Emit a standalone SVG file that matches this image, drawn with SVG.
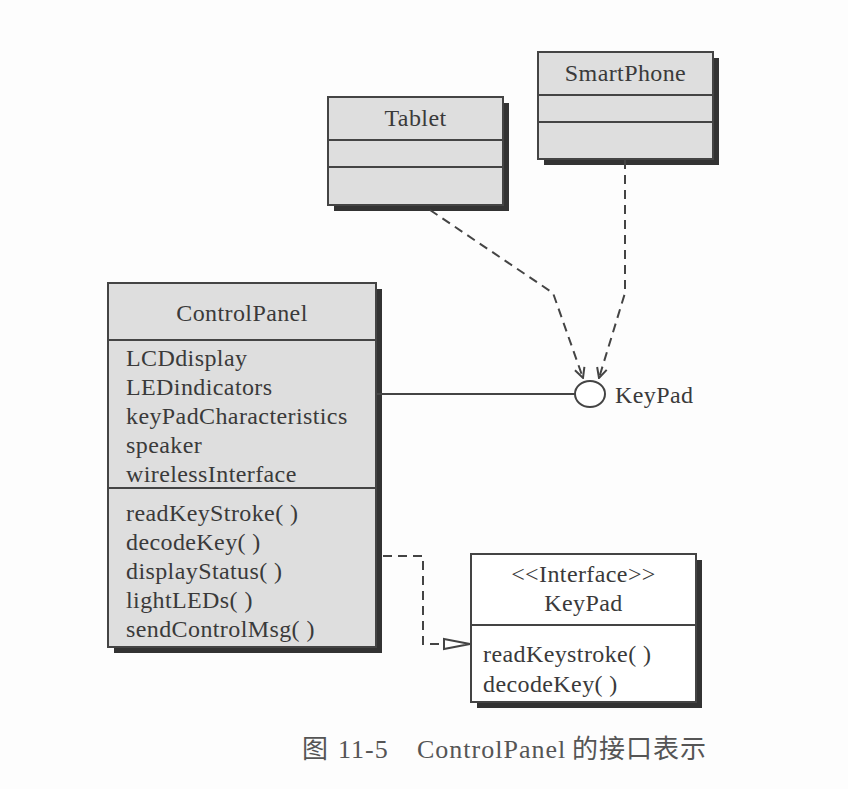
<svg xmlns="http://www.w3.org/2000/svg" width="848" height="789" viewBox="0 0 848 789">
<defs>
<style>
.box{fill:#dedede;stroke:#444;stroke-width:2}
.ibox{fill:#fff;stroke:#444;stroke-width:2}
.sh{fill:#333}
.div{stroke:#444;stroke-width:2}
.t{font-family:"Liberation Serif","Times New Roman",serif;font-size:24px;letter-spacing:0.4px;fill:#3a3a3a}
.c{text-anchor:middle}
.cap{font-family:"Liberation Serif","Noto Sans CJK SC",serif;font-size:26px;fill:#555}
.dash{fill:none;stroke:#444;stroke-width:2;stroke-dasharray:9,6}
.solid{fill:none;stroke:#444;stroke-width:2}
</style>
<marker id="open" viewBox="0 0 12 12" refX="11" refY="6" markerWidth="12" markerHeight="12" markerUnits="userSpaceOnUse" orient="auto">
<path d="M1,1 L11,6 L1,11" fill="none" stroke="#444" stroke-width="2"/>
</marker>
<marker id="tri" viewBox="0 0 30 14" refX="29" refY="7" markerWidth="30" markerHeight="14" markerUnits="userSpaceOnUse" orient="auto">
<path d="M2,2 L28,7 L2,12 Z" fill="#fff" stroke="#444" stroke-width="2"/>
</marker>
</defs>
<rect width="848" height="789" fill="#fdfdfd"/>

<g id="tablet">
<rect class="sh" x="334" y="103" width="175" height="108"/>
<rect class="box" x="328" y="97" width="175" height="108"/>
<line class="div" x1="328" y1="140" x2="503" y2="140"/>
<line class="div" x1="328" y1="167" x2="503" y2="167"/>
<text class="t c" x="415.5" y="126">Tablet</text>
</g>

<g id="smartphone">
<rect class="sh" x="544" y="58" width="175" height="107"/>
<rect class="box" x="538" y="52" width="175" height="107"/>
<line class="div" x1="538" y1="95" x2="713" y2="95"/>
<line class="div" x1="538" y1="122" x2="713" y2="122"/>
<text class="t c" x="625.5" y="81">SmartPhone</text>
</g>

<g id="controlpanel">
<rect class="sh" x="114" y="289" width="268" height="364"/>
<rect class="box" x="108" y="283" width="268" height="364"/>
<line class="div" x1="108" y1="340" x2="376" y2="340"/>
<line class="div" x1="108" y1="488" x2="376" y2="488"/>
<text class="t c" x="242" y="321">ControlPanel</text>
<text class="t" x="126" y="366">LCDdisplay</text>
<text class="t" x="126" y="395">LEDindicators</text>
<text class="t" x="126" y="424">keyPadCharacteristics</text>
<text class="t" x="126" y="453">speaker</text>
<text class="t" x="126" y="482">wirelessInterface</text>
<text class="t" x="126" y="521">readKeyStroke( )</text>
<text class="t" x="126" y="550">decodeKey( )</text>
<text class="t" x="126" y="579">displayStatus( )</text>
<text class="t" x="126" y="608">lightLEDs( )</text>
<text class="t" x="126" y="637">sendControlMsg( )</text>
</g>

<g id="keypad-lollipop">
<ellipse cx="590" cy="394" rx="15" ry="13" fill="#fff" stroke="#444" stroke-width="2"/>
<text class="t" x="615" y="403">KeyPad</text>
</g>

<g id="keypad-interface">
<rect class="sh" x="477" y="560" width="225" height="148"/>
<rect class="ibox" x="471" y="554" width="225" height="148"/>
<line class="div" x1="471" y1="625" x2="696" y2="625"/>
<text class="t c" x="583.5" y="582">&lt;&lt;Interface&gt;&gt;</text>
<text class="t c" x="583.5" y="611">KeyPad</text>
<text class="t" x="483" y="662">readKeystroke( )</text>
<text class="t" x="483" y="692">decodeKey( )</text>
</g>

<g id="connectors">
<line class="solid" x1="376" y1="394" x2="575" y2="394"/>
<polyline class="dash" points="430,210 553,293 583,378" marker-end="url(#open)"/>
<polyline class="dash" points="625,160 625,293 599,378" marker-end="url(#open)"/>
<polyline class="dash" points="383,556 423,556 423,644 471,644" marker-end="url(#tri)"/>
</g>

<text class="cap" y="758"><tspan x="302">图</tspan><tspan x="338" letter-spacing="1">11-5</tspan><tspan x="417" letter-spacing="1">ControlPanel</tspan><tspan x="572" letter-spacing="1">的接口表示</tspan></text>
</svg>
